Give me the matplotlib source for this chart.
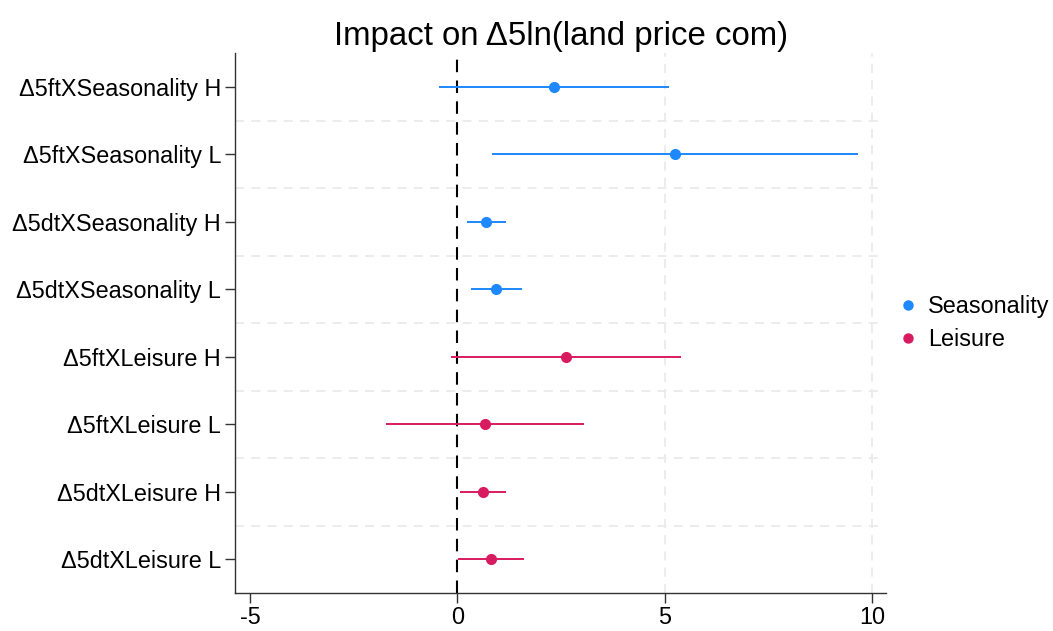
import matplotlib
matplotlib.use("Agg")
import matplotlib.pyplot as plt
from matplotlib.lines import Line2D

plt.rcParams['font.family'] = ['Liberation Sans', 'DejaVu Sans']

labels = ["Δ5ftXSeasonality H", "Δ5ftXSeasonality L", "Δ5dtXSeasonality H", "Δ5dtXSeasonality L",
          "Δ5ftXLeisure H", "Δ5ftXLeisure L", "Δ5dtXLeisure H", "Δ5dtXLeisure L"]
groups = ["Seasonality"] * 4 + ["Leisure"] * 4
estimates = [2.33, 5.24, 0.69, 0.93, 2.61, 0.66, 0.61, 0.81]
ci_low = [-0.45, 0.83, 0.23, 0.33, -0.16, -1.72, 0.06, 0.02]
ci_high = [5.10, 9.65, 1.17, 1.55, 5.39, 3.05, 1.17, 1.60]
xticks = [-5, 0, 5, 10]

colors = {"Seasonality": "#1E88FF", "Leisure": "#D81B60"}

fig = plt.figure(figsize=(10.53, 6.31), dpi=100)
ax = fig.add_axes([0.2232, 0.0602, 0.6182, 0.8558])

n = len(labels)
ypos = [n - i for i in range(n)]

# grid: dashed light lines between rows and at x ticks
for k in range(1, n):
    ax.axhline(k + 0.5, color="#EBEBEB", lw=1.3, ls=(0, (5, 4)), zorder=0, xmax=0.99)
for xv in [5, 10]:
    ax.axvline(xv, color="#EBEBEB", lw=1.3, ls=(0, (5, 4)), zorder=0)

ax.axvline(0, color="black", lw=1.5, ls=(0, (6, 4)), zorder=1)

for y, g, est, lo, hi in zip(ypos, groups, estimates, ci_low, ci_high):
    c = colors[g]
    ax.plot([lo, hi], [y, y], color=c, lw=1.4, zorder=2, solid_capstyle="butt")
    ax.plot(est, y, "o", color=c, ms=7, zorder=3)

ax.set_xlim(-5.36, 10.33)
ax.set_ylim(0.5, n + 0.5)
ax.set_yticks(ypos)
ax.set_yticklabels(labels, fontsize=16.8)
ax.set_xticks(xticks)
ax.set_xticklabels([str(v) for v in xticks], fontsize=16.8)
ax.tick_params(axis="both", length=7, width=1, color="#333333", pad=3)
ax.tick_params(axis="x", pad=2)

for s in ["top", "right"]:
    ax.spines[s].set_visible(False)
for s in ["left", "bottom"]:
    ax.spines[s].set_color("#333333")
    ax.spines[s].set_linewidth(1)

ax.set_title("Impact on Δ5ln(land price com)", fontsize=23.8, pad=6)

handles = [Line2D([], [], marker="o", ls="", color=colors[g], ms=6.5, label=g)
           for g in ["Seasonality", "Leisure"]]
fig.legend(handles=handles, loc="center left", bbox_to_anchor=(0.8447, 0.488),
           frameon=False, fontsize=16.8, handletextpad=0.45, labelspacing=0.46,
           borderaxespad=0, handlelength=0.8)

fig.savefig("out.png", dpi=100)
